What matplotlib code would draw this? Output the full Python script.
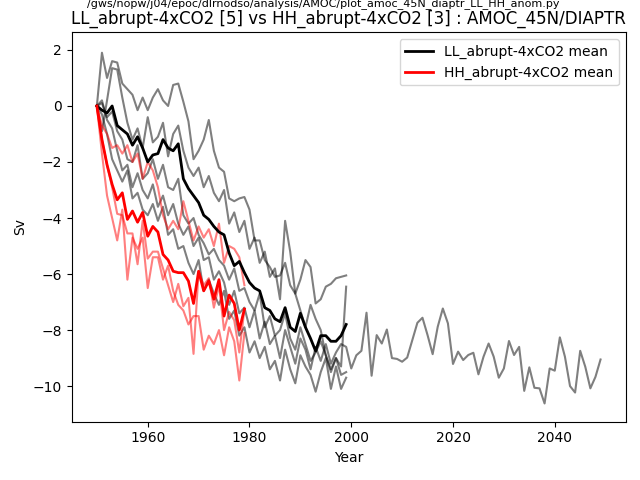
import numpy as np
import matplotlib
matplotlib.use("Agg")
import matplotlib.pyplot as plt

# ==========================================
# AMOC 45N (diaptr) anomalies, LL vs HH abrupt-4xCO2
# ==========================================
script_path = "/gws/nopw/j04/epoc/dlrnodso/analysis/AMOC/plot_amoc_45N_diaptr_LL_HH_anom.py"
title = "LL_abrupt-4xCO2 [5] vs HH_abrupt-4xCO2 [3] : AMOC_45N/DIAPTR"

start_year = 1950

# LL ensemble members (Sv), 4 x 50 years + 1 x 100 years
ll_1 = [0.0, 1.9, 1.0, 1.6, 1.55, 0.8, 0.6, 0.4, -0.15, 0.3,
        -0.15, 0.3, 0.6, 0.2, 0.0, 0.75, 0.8, 0.15, -0.55, -1.9,
        -1.6, -1.2, -0.5, -1.6, -2.2, -2.35, -3.3, -3.4, -3.3, -3.25,
        -3.7, -4.8, -4.8, -5.5, -5.75, -6.1, -6.05, -5.6, -6.4, -6.7,
        -6.2, -5.5, -5.75, -7.05, -6.9, -6.45, -6.35, -6.15, -6.1, -6.05]
ll_2 = [0.0, -0.9, 0.2, 1.35, 1.3, 0.3, -0.6, -1.2, -0.8, -1.5,
        -0.4, -1.3, -1.1, -0.6, -1.8, -1.0, -0.7, -1.6, -2.2, -2.5,
        -2.2, -2.9, -2.5, -3.1, -3.4, -3.0, -4.2, -3.8, -4.5, -4.1,
        -5.1, -4.7, -5.6, -5.2, -6.1, -5.8, -6.9, -4.1, -5.2, -6.7,
        -7.3, -7.9, -7.1, -7.6, -8.0, -8.9, -9.4, -9.0, -9.3, -6.45]
ll_3 = [0.0, -0.3, -1.0, -1.9, -2.3, -2.7, -2.3, -3.3, -3.1, -3.7,
        -3.9, -3.5, -4.1, -3.6, -4.6, -4.4, -5.1, -5.0, -5.6, -6.0,
        -5.5, -6.6, -6.2, -6.7, -7.1, -6.6, -7.6, -7.3, -8.2, -7.9,
        -8.8, -8.4, -9.0, -8.6, -9.4, -9.1, -9.8, -8.7, -9.4, -9.9,
        -8.9, -9.3, -9.6, -10.2, -9.5, -9.0, -10.1, -9.3, -10.1, -9.7]
ll_4 = [0.0, 0.1, -0.4, -0.2, -0.9, -1.2, -1.9, -2.0, -1.4, -2.6,
        -2.4, -1.9, -2.6, -2.1, -2.9, -3.0, -2.6, -3.9, -4.2, -4.0,
        -4.6, -4.9, -5.3, -5.1, -5.5, -5.7, -6.2, -5.8, -6.6, -6.5,
        -7.0, -7.3, -6.7, -7.9, -7.5, -8.2, -8.0, -7.4, -8.3, -8.7,
        -7.9, -8.5, -9.1, -8.8, -8.4, -8.9, -9.5, -9.0, -9.6, -9.5]
ll_5 = [0.0, 0.2, -0.5, -0.8, -1.6, -2.3, -2.1, -2.9, -2.4, -3.0,
        -3.3, -2.8, -3.6, -3.2, -3.9, -3.5, -4.2, -4.6, -4.3, -5.0,
        -4.7, -5.5, -5.4, -6.2, -5.9, -6.3, -7.1, -6.6, -7.4, -7.2,
        -7.9, -7.3, -8.3, -7.7, -8.5, -8.2, -9.0, -8.0, -8.6, -9.2,
        -8.3, -8.7, -9.4, -8.6, -9.1, -8.5, -9.2, -8.8, -8.5, -8.6,
        -9.37, -8.9, -8.74, -7.38, -9.63, -8.18, -8.48, -7.98, -9.0, -9.03,
        -9.13, -8.98, -8.36, -7.74, -7.56, -8.18, -8.86, -7.88, -7.23, -7.76,
        -9.21, -8.77, -9.07, -8.89, -8.81, -9.58, -8.95, -8.48, -8.95, -9.7,
        -9.37, -8.39, -8.89, -8.6, -10.17, -9.33, -10.06, -10.08, -10.62, -9.37,
        -9.45, -8.26, -8.95, -10.0, -10.23, -8.74, -9.31, -10.08, -9.67, -9.05]

# HH ensemble members (Sv), 30 years each
hh_1 = [0.0, -0.7, -1.0, -1.5, -1.4, -1.7, -1.4, -2.0, -1.7, -2.6,
        -2.0, -2.3, -2.9, -3.9, -4.4, -4.1, -4.4, -3.4, -4.1, -4.8,
        -4.3, -4.7, -4.4, -5.0, -4.2, -5.6, -5.0, -5.1, -5.4, -6.4]
hh_2 = [0.0, -1.2, -2.1, -2.9, -3.85, -3.9, -4.55, -4.55, -5.65, -4.1,
        -5.45, -5.2, -5.2, -5.8, -6.4, -7.0, -6.35, -7.15, -6.85, -8.85,
        -5.9, -6.4, -6.15, -7.2, -6.4, -8.0, -7.35, -7.65, -8.8, -7.25]
hh_3 = [0.0, -1.7, -3.2, -4.0, -4.8, -3.7, -6.2, -4.7, -5.1, -4.7,
        -6.5, -5.4, -5.4, -6.2, -5.7, -6.6, -7.1, -7.3, -7.8, -7.5,
        -7.5, -8.7, -8.2, -8.5, -8.0, -8.9, -7.9, -8.4, -9.8, -8.1]

# ensemble means as drawn
ll_mean = [0.0, -0.15, -0.25, 0.0, -0.7, -0.85, -1.0, -1.4, -1.1, -1.5,
           -2.0, -1.75, -1.7, -1.2, -1.5, -1.6, -1.35, -2.6, -2.95, -3.2,
           -3.45, -3.9, -4.05, -4.3, -4.5, -4.6, -5.25, -5.7, -5.55, -5.95,
           -6.3, -6.5, -6.6, -7.2, -7.3, -7.6, -7.7, -7.2, -7.9, -8.05,
           -7.4, -7.9, -8.3, -8.75, -8.2, -8.2, -8.4, -8.4, -8.2, -7.8]
hh_mean = [0.0, -1.2, -2.1, -2.8, -3.35, -3.1, -4.05, -3.75, -4.15, -3.8,
           -4.65, -4.3, -4.5, -5.3, -5.5, -5.9, -5.95, -5.95, -6.25, -7.05,
           -5.9, -6.6, -6.25, -6.9, -6.2, -7.5, -6.75, -7.05, -8.0, -7.25]

ll_members = [ll_1, ll_2, ll_3, ll_4, ll_5]
hh_members = [hh_1, hh_2, hh_3]

fig = plt.figure(figsize=(6.4, 4.8), dpi=100)
ax = fig.add_axes([0.112, 0.1215, 0.8657, 0.8118])

# individual runs
for run in ll_members:
    yrs = start_year + np.arange(len(run))
    ax.plot(yrs, run, color='k', alpha=0.5, linewidth=1.5)
for run in hh_members:
    yrs = start_year + np.arange(len(run))
    ax.plot(yrs, run, color='r', alpha=0.5, linewidth=1.5)

# means
ax.plot(start_year + np.arange(len(ll_mean)), ll_mean, color='k', linewidth=2,
        label='LL_abrupt-4xCO2 mean')
ax.plot(start_year + np.arange(len(hh_mean)), hh_mean, color='r', linewidth=2,
        label='HH_abrupt-4xCO2 mean')

ax.set_ylim(-11.27, 2.64)
ax.set_xlabel('Year')
ax.set_ylabel('Sv')
ax.set_title(title)
ax.legend(loc='upper right')

fig.text(0.505, 0.9875, script_path, fontsize=8, ha='center', va='baseline')

fig.savefig('out.png', dpi=100)
